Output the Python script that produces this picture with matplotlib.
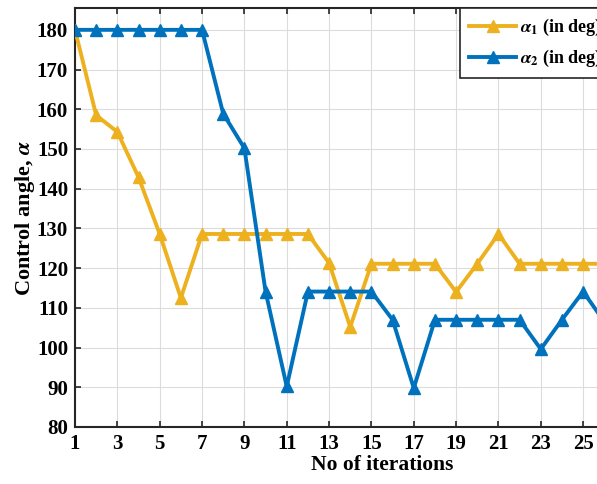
import matplotlib
matplotlib.use("Agg")
import matplotlib.pyplot as plt

iterations = list(range(1, 27))
alpha1 = [180, 158.5, 154.3, 142.9, 128.6, 112.5, 128.6, 128.6, 128.6, 128.6,
          128.6, 128.6, 121.3, 105.2, 121.1, 121.1, 121.1, 121.1, 114.0, 121.1,
          128.6, 121.1, 121.1, 121.1, 121.1, 121.1]
alpha2 = [180, 180, 180, 180, 180, 180, 180, 158.9, 150.2, 114.1,
          90.2, 114.1, 114.1, 114.1, 114.1, 107.0, 89.8, 107.0, 107.0, 107.0,
          107.0, 107.0, 99.6, 107.0, 114.1, 106.5]
xticks = list(range(1, 30, 2))
yticks = list(range(80, 181, 10))

plt.rcParams["font.family"] = "Liberation Serif"
plt.rcParams["font.weight"] = "bold"
plt.rcParams["mathtext.fontset"] = "stix"

fig = plt.figure(figsize=(5.97, 4.84), dpi=100)
W, H = 597, 484
# axes runs past the right edge of the figure, as in the reference
ax = fig.add_axes([75 / W, 1 - 427 / H, 614 / W, 419 / H])

ax.plot(iterations, alpha1, color="#EDB120", lw=2.8, marker="^", ms=9,
        label=r"$\alpha_1$ (in deg)", zorder=3)
ax.plot(iterations, alpha2, color="#0072BD", lw=2.8, marker="^", ms=9,
        label=r"$\alpha_2$ (in deg)", zorder=3)

ax.set_xlim(1, 30)
ax.set_ylim(80, 185.5)
ax.set_xticks(xticks)
ax.set_yticks(yticks)
ax.tick_params(direction="in", length=4, width=1.2, labelsize=15,
               top=True, right=True, color="#262626", pad=5)
for lbl in ax.get_xticklabels() + ax.get_yticklabels():
    lbl.set_fontweight("bold")
for s in ax.spines.values():
    s.set_color("#262626")
    s.set_linewidth(1.5)
ax.grid(True, color="#dcdcdc", lw=0.8)
ax.set_axisbelow(True)

ax.set_xlabel("No of iterations", fontsize=15.5, fontweight="bold", labelpad=1)
ax.set_ylabel(r"Control angle, $\alpha$", fontsize=16, fontweight="bold", labelpad=0)

leg = fig.legend(loc="upper left", bbox_to_anchor=(460 / W, 1 - 8 / H),
                 fancybox=False, framealpha=1, edgecolor="#262626",
                 prop={"size": 13, "weight": "bold"}, borderaxespad=0,
                 handlelength=2.6, handletextpad=0.2, borderpad=0.5,
                 labelspacing=0.55)
leg.get_frame().set_linewidth(1.2)

fig.savefig("out.png", dpi=100)
